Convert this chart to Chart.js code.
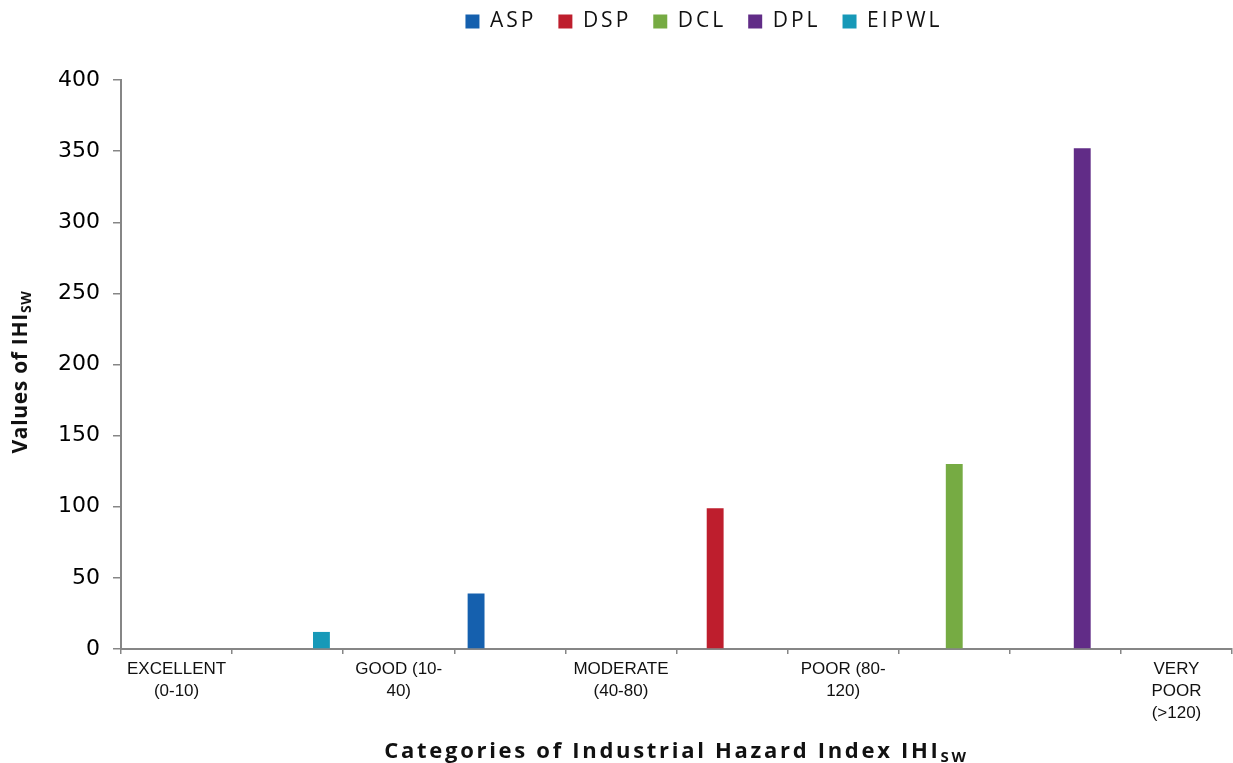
<!DOCTYPE html>
<html>
<head>
<meta charset="utf-8">
<title>Industrial Hazard Index</title>
<script src="https://cdn.jsdelivr.net/npm/chart.js@4.4.1/dist/chart.umd.min.js"></script>
<style>
  html, body { margin: 0; padding: 0; background: #ffffff; }
  canvas { display: block; }
</style>
</head>
<body>
<canvas id="chart" width="1233" height="763"></canvas>
<script>
// Category slots along the x axis (blank slots keep the original spacing)
const categories = [
  ["EXCELLENT", "(0-10)"],
  "",
  ["GOOD (10-", "40)"],
  "",
  ["MODERATE", "(40-80)"],
  "",
  ["POOR (80-", "120)"],
  "",
  "",
  ["VERY", "POOR", "(>120)"]
];

const seriesNames = ["ASP", "DSP", "DCL", "DPL", "EIPWL"];
const seriesColors = ["#1560ae", "#be1e2d", "#76ab43", "#612c87", "#1799b8"];

// IHI_SW per location, placed in its category slot
const aspValues   = [null, null, null, 39, null, null, null, null, null, null];
const dspValues   = [null, null, null, null, null, 99, null, null, null, null];
const dclValues   = [null, null, null, null, null, null, null, 130, null, null];
const dplValues   = [null, null, null, null, null, null, null, null, 352, null];
const eipwlValues = [null, 12, null, null, null, null, null, null, null, null];

const yTickValues = [0, 50, 100, 150, 200, 250, 300, 350, 400];

const seriesValues = [aspValues, dspValues, dclValues, dplValues, eipwlValues];

const AXIS_GREY = "#868686";
const TEXT_DARK = "#111111";
const AREA_TOP = 80;

// Legend: letter-spaced labels, placed above the plot
const legendSpacing = {
  id: "legendSpacing",
  beforeUpdate(chart) {
    const lg = chart.legend;
    if (!lg || lg._spaced) return;
    lg._spaced = true;
    ["fit", "draw"].forEach(m => {
      const orig = lg[m];
      lg[m] = function (...args) {
        const ctx = this.ctx;
        const prev = ctx.letterSpacing;
        ctx.letterSpacing = "3px";
        const r = orig.apply(this, args);
        ctx.letterSpacing = prev || "0px";
        return r;
      };
    });
  },
  afterLayout(chart) {
    const lg = chart.legend;
    if (!lg) return;
    const h = lg.bottom - lg.top;
    lg.top = -11;
    lg.bottom = lg.top + h;
    lg.left += 88;
    lg.right += 88;
  }
};

// Axis titles with the SW subscript
function drawSubTitle(ctx, main, sub, cx, cy, mainFont, subFont, spacing, subDrop) {
  ctx.save();
  ctx.fillStyle = "#111111";
  ctx.textBaseline = "alphabetic";
  ctx.textAlign = "left";
  ctx.letterSpacing = spacing + "px";
  ctx.font = mainFont;
  const wMain = ctx.measureText(main).width;
  ctx.font = subFont;
  const wSub = ctx.measureText(sub).width;
  const x0 = cx - (wMain + wSub) / 2;
  ctx.font = mainFont;
  ctx.fillText(main, x0, cy);
  ctx.font = subFont;
  ctx.fillText(sub, x0 + wMain, cy + subDrop);
  ctx.restore();
}

const axisTitles = {
  id: "axisTitles",
  afterDraw(chart) {
    const ctx = chart.ctx;
    const area = chart.chartArea;
    // x title
    drawSubTitle(ctx, "Categories of Industrial Hazard Index IHI", "SW",
      (area.left + area.right) / 2, 758,
      "bold 22px 'Open Sans'", "bold 15px 'Open Sans'", 2.7, 4);
    // y title
    ctx.save();
    ctx.translate(27, 372);
    ctx.rotate(-Math.PI / 2);
    drawSubTitle(ctx, "Values of IHI", "SW", 0, 0,
      "bold 21px 'Open Sans'", "bold 14px 'Open Sans'", 0.7, 4);
    ctx.restore();
  }
};

const chart = new Chart(document.getElementById("chart"), {
  type: "bar",
  data: {
    labels: categories,
    datasets: seriesNames.map((name, i) => ({
      label: name,
      data: seriesValues[i],
      backgroundColor: seriesColors[i],
      borderWidth: 0,
      categoryPercentage: 0.76,
      barPercentage: 1.0
    }))
  },
  options: {
    responsive: false,
    animation: false,
    devicePixelRatio: 1,
    layout: { padding: { top: 0, right: 1, bottom: 0, left: 0 } },
    plugins: {
      legend: {
        position: "top",
        align: "center",
        labels: {
          boxWidth: 14,
          boxHeight: 14,
          padding: 22,
          color: "#111111",
          font: { family: "'Open Sans'", size: 21 }
        }
      },
      tooltip: { enabled: false },
      title: { display: false }
    },
    scales: {
      x: {
        type: "category",
        offset: true,
        grid: {
          display: true,
          offset: true,
          drawOnChartArea: false,
          tickLength: 5,
          color: AXIS_GREY,
          lineWidth: 1.5
        },
        border: { display: true, color: AXIS_GREY, width: 2 },
        ticks: {
          autoSkip: false,
          maxRotation: 0,
          minRotation: 0,
          padding: 4,
          color: TEXT_DARK,
          font: { family: "'Liberation Sans', Arial, sans-serif", size: 17, lineHeight: 1.3 }
        },
        afterFit(scale) { scale.height = 114; }
      },
      y: {
        min: 0,
        max: 400,
        grid: {
          display: true,
          drawOnChartArea: false,
          tickLength: 8,
          color: AXIS_GREY,
          lineWidth: 1.5
        },
        border: { display: true, color: AXIS_GREY, width: 2 },
        ticks: {
          padding: 13,
          color: "#000000",
          font: { family: "'DejaVu Sans', sans-serif", size: 22 }
        },
        afterBuildTicks(scale) {
          scale.ticks = yTickValues.map(v => ({ value: v }));
        },
        afterFit(scale) { scale.width = 121; }
      }
    }
  },
  plugins: [legendSpacing, axisTitles]
});

// Pin the top of the plot area
const dTop = AREA_TOP - chart.chartArea.top;
if (Math.abs(dTop) > 0.01) {
  chart.config.options.layout.padding.top += dTop;
  chart.update("none");
}
</script>
</body>
</html>
